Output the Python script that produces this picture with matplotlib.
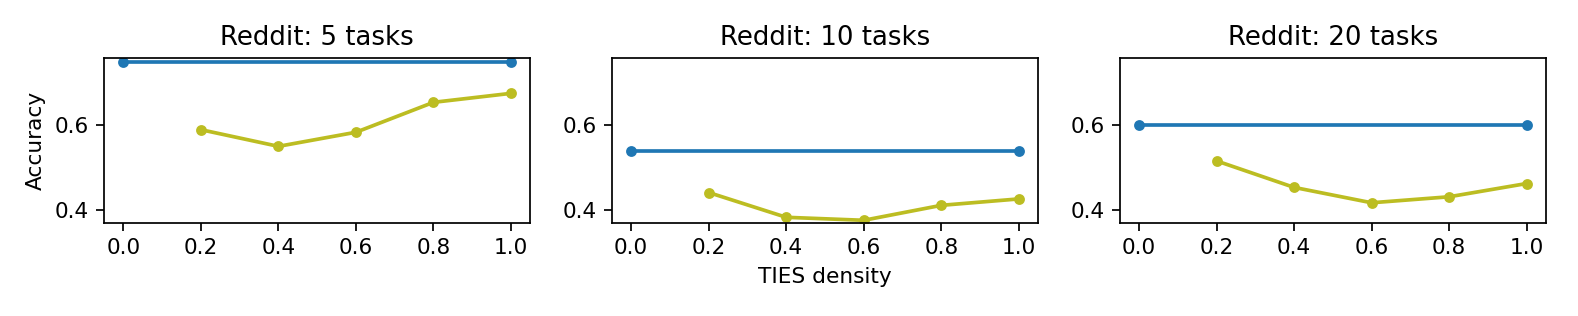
import numpy as np
import matplotlib
matplotlib.use("Agg")
import matplotlib.pyplot as plt

densities = [0.2, 0.4, 0.6, 0.8, 1.0]
baseline_x = [0.0, 1.0]

titles = ["Reddit: 5 tasks", "Reddit: 10 tasks", "Reddit: 20 tasks"]
baseline_acc = [0.747, 0.537, 0.598]
ties_acc = [
    [0.588, 0.549, 0.582, 0.652, 0.673],
    [0.441, 0.383, 0.376, 0.411, 0.426],
    [0.515, 0.453, 0.417, 0.431, 0.462],
]


def main():
    dpi = 156
    fig, axes = plt.subplots(1, 3, figsize=(1578 / dpi, 316 / dpi), dpi=dpi)
    fig.subplots_adjust(left=0.0659, right=0.9797, top=0.8155, bottom=0.2934, wspace=0.191)

    for i, ax in enumerate(axes):
        b = baseline_acc[i]
        ax.plot(baseline_x, [b, b], marker="o", markersize=4, linewidth=1.7, color="tab:blue")
        ax.plot(densities, ties_acc[i], marker="o", markersize=4, linewidth=1.7, color="tab:olive")
        ax.set_title(titles[i])
        ax.set_ylim(0.369, 0.755)
        ax.set_yticks([0.4, 0.6])
        ax.set_xticks([0.0, 0.2, 0.4, 0.6, 0.8, 1.0])

    axes[0].set_ylabel("Accuracy")
    axes[1].set_xlabel("TIES density")

    fig.savefig("out.png", dpi=dpi)


if __name__ == "__main__":
    main()
